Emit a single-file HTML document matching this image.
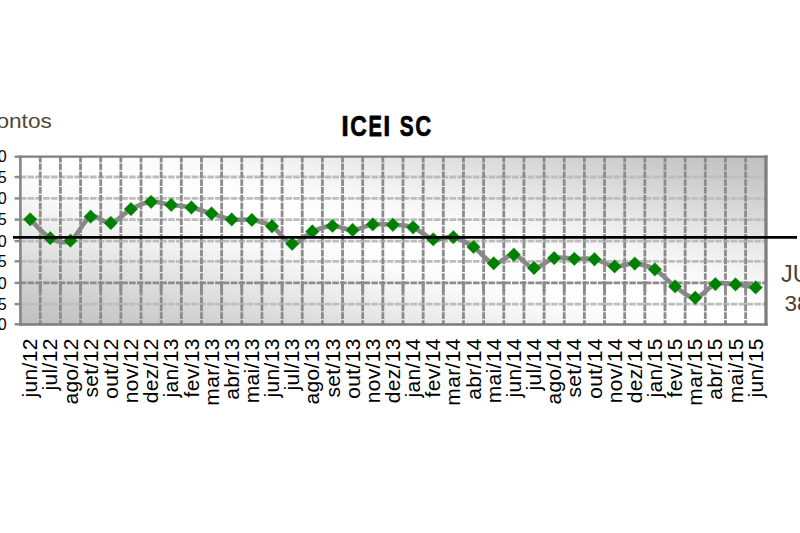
<!DOCTYPE html>
<html><head><meta charset="utf-8"><title>ICEI SC</title>
<style>
html,body{margin:0;padding:0;background:#fff;width:800px;height:533px;overflow:hidden;}
svg{display:block;}
text{font-family:"Liberation Sans",sans-serif;}
</style></head><body>
<svg width="800" height="533" viewBox="0 0 800 533">
<defs>
<linearGradient id="bg" x1="0" y1="1" x2="1" y2="0">
<stop offset="0.000" stop-color="#bfbfbf"/>
<stop offset="0.050" stop-color="#c5c5c5"/>
<stop offset="0.100" stop-color="#cccccc"/>
<stop offset="0.150" stop-color="#d4d4d4"/>
<stop offset="0.200" stop-color="#dcdcdc"/>
<stop offset="0.250" stop-color="#e4e4e4"/>
<stop offset="0.300" stop-color="#ececec"/>
<stop offset="0.350" stop-color="#f3f3f3"/>
<stop offset="0.400" stop-color="#f9f9f9"/>
<stop offset="0.450" stop-color="#fdfdfd"/>
<stop offset="0.500" stop-color="#ffffff"/>
<stop offset="0.550" stop-color="#fdfdfd"/>
<stop offset="0.600" stop-color="#f9f9f9"/>
<stop offset="0.650" stop-color="#f3f3f3"/>
<stop offset="0.700" stop-color="#ececec"/>
<stop offset="0.750" stop-color="#e4e4e4"/>
<stop offset="0.800" stop-color="#dcdcdc"/>
<stop offset="0.850" stop-color="#d4d4d4"/>
<stop offset="0.900" stop-color="#cccccc"/>
<stop offset="0.950" stop-color="#c5c5c5"/>
<stop offset="1.000" stop-color="#bfbfbf"/>
</linearGradient>
<filter id="soft" x="-1%" y="-5%" width="102%" height="110%"><feGaussianBlur stdDeviation="0.45"/></filter>
<filter id="soft2" x="-2%" y="-10%" width="104%" height="120%"><feGaussianBlur stdDeviation="0.4"/></filter>
</defs>

<rect x="20.10" y="156.70" width="745.66" height="167.60" fill="url(#bg)"/>
<g filter="url(#soft)">
<line x1="19.7" y1="177.00" x2="765.76" y2="177.00" stroke="#bdbdbd" stroke-width="2.8" stroke-dasharray="6.565 1.25"/>
<line x1="19.7" y1="198.40" x2="765.76" y2="198.40" stroke="#bdbdbd" stroke-width="2.8" stroke-dasharray="6.565 1.25"/>
<line x1="19.7" y1="219.60" x2="765.76" y2="219.60" stroke="#bdbdbd" stroke-width="2.8" stroke-dasharray="6.565 1.25"/>
<line x1="19.7" y1="241.10" x2="765.76" y2="241.10" stroke="#bdbdbd" stroke-width="2.8" stroke-dasharray="6.565 1.25"/>
<line x1="19.7" y1="261.30" x2="765.76" y2="261.30" stroke="#bdbdbd" stroke-width="2.8" stroke-dasharray="6.565 1.25"/>
<line x1="19.7" y1="282.90" x2="765.76" y2="282.90" stroke="#8c8c8c" stroke-width="2.8" stroke-dasharray="6.565 1.25"/>
<line x1="19.7" y1="304.10" x2="765.76" y2="304.10" stroke="#bdbdbd" stroke-width="2.8" stroke-dasharray="6.565 1.25"/>
<line x1="40.25" y1="156.70" x2="40.25" y2="324.30" stroke="#8c8c8c" stroke-width="2.8" stroke-dasharray="6.68 1.15" stroke-dashoffset="0.96"/>
<line x1="60.41" y1="156.70" x2="60.41" y2="324.30" stroke="#8c8c8c" stroke-width="2.8" stroke-dasharray="6.68 1.15" stroke-dashoffset="0.96"/>
<line x1="80.56" y1="156.70" x2="80.56" y2="324.30" stroke="#8c8c8c" stroke-width="2.8" stroke-dasharray="6.68 1.15" stroke-dashoffset="0.96"/>
<line x1="100.71" y1="156.70" x2="100.71" y2="324.30" stroke="#8c8c8c" stroke-width="2.8" stroke-dasharray="6.68 1.15" stroke-dashoffset="0.96"/>
<line x1="120.86" y1="156.70" x2="120.86" y2="324.30" stroke="#8c8c8c" stroke-width="2.8" stroke-dasharray="6.68 1.15" stroke-dashoffset="0.96"/>
<line x1="141.02" y1="156.70" x2="141.02" y2="324.30" stroke="#8c8c8c" stroke-width="2.8" stroke-dasharray="6.68 1.15" stroke-dashoffset="0.96"/>
<line x1="161.17" y1="156.70" x2="161.17" y2="324.30" stroke="#8c8c8c" stroke-width="2.8" stroke-dasharray="6.68 1.15" stroke-dashoffset="0.96"/>
<line x1="181.32" y1="156.70" x2="181.32" y2="324.30" stroke="#8c8c8c" stroke-width="2.8" stroke-dasharray="6.68 1.15" stroke-dashoffset="0.96"/>
<line x1="201.48" y1="156.70" x2="201.48" y2="324.30" stroke="#8c8c8c" stroke-width="2.8" stroke-dasharray="6.68 1.15" stroke-dashoffset="0.96"/>
<line x1="221.63" y1="156.70" x2="221.63" y2="324.30" stroke="#8c8c8c" stroke-width="2.8" stroke-dasharray="6.68 1.15" stroke-dashoffset="0.96"/>
<line x1="241.78" y1="156.70" x2="241.78" y2="324.30" stroke="#8c8c8c" stroke-width="2.8" stroke-dasharray="6.68 1.15" stroke-dashoffset="0.96"/>
<line x1="261.94" y1="156.70" x2="261.94" y2="324.30" stroke="#8c8c8c" stroke-width="2.8" stroke-dasharray="6.68 1.15" stroke-dashoffset="0.96"/>
<line x1="282.09" y1="156.70" x2="282.09" y2="324.30" stroke="#8c8c8c" stroke-width="2.8" stroke-dasharray="6.68 1.15" stroke-dashoffset="0.96"/>
<line x1="302.24" y1="156.70" x2="302.24" y2="324.30" stroke="#8c8c8c" stroke-width="2.8" stroke-dasharray="6.68 1.15" stroke-dashoffset="0.96"/>
<line x1="322.39" y1="156.70" x2="322.39" y2="324.30" stroke="#8c8c8c" stroke-width="2.8" stroke-dasharray="6.68 1.15" stroke-dashoffset="0.96"/>
<line x1="342.55" y1="156.70" x2="342.55" y2="324.30" stroke="#8c8c8c" stroke-width="2.8" stroke-dasharray="6.68 1.15" stroke-dashoffset="0.96"/>
<line x1="362.70" y1="156.70" x2="362.70" y2="324.30" stroke="#8c8c8c" stroke-width="2.8" stroke-dasharray="6.68 1.15" stroke-dashoffset="0.96"/>
<line x1="382.85" y1="156.70" x2="382.85" y2="324.30" stroke="#8c8c8c" stroke-width="2.8" stroke-dasharray="6.68 1.15" stroke-dashoffset="0.96"/>
<line x1="403.01" y1="156.70" x2="403.01" y2="324.30" stroke="#8c8c8c" stroke-width="2.8" stroke-dasharray="6.68 1.15" stroke-dashoffset="0.96"/>
<line x1="423.16" y1="156.70" x2="423.16" y2="324.30" stroke="#8c8c8c" stroke-width="2.8" stroke-dasharray="6.68 1.15" stroke-dashoffset="0.96"/>
<line x1="443.31" y1="156.70" x2="443.31" y2="324.30" stroke="#8c8c8c" stroke-width="2.8" stroke-dasharray="6.68 1.15" stroke-dashoffset="0.96"/>
<line x1="463.47" y1="156.70" x2="463.47" y2="324.30" stroke="#8c8c8c" stroke-width="2.8" stroke-dasharray="6.68 1.15" stroke-dashoffset="0.96"/>
<line x1="483.62" y1="156.70" x2="483.62" y2="324.30" stroke="#8c8c8c" stroke-width="2.8" stroke-dasharray="6.68 1.15" stroke-dashoffset="0.96"/>
<line x1="503.77" y1="156.70" x2="503.77" y2="324.30" stroke="#8c8c8c" stroke-width="2.8" stroke-dasharray="6.68 1.15" stroke-dashoffset="0.96"/>
<line x1="523.92" y1="156.70" x2="523.92" y2="324.30" stroke="#8c8c8c" stroke-width="2.8" stroke-dasharray="6.68 1.15" stroke-dashoffset="0.96"/>
<line x1="544.08" y1="156.70" x2="544.08" y2="324.30" stroke="#8c8c8c" stroke-width="2.8" stroke-dasharray="6.68 1.15" stroke-dashoffset="0.96"/>
<line x1="564.23" y1="156.70" x2="564.23" y2="324.30" stroke="#8c8c8c" stroke-width="2.8" stroke-dasharray="6.68 1.15" stroke-dashoffset="0.96"/>
<line x1="584.38" y1="156.70" x2="584.38" y2="324.30" stroke="#8c8c8c" stroke-width="2.8" stroke-dasharray="6.68 1.15" stroke-dashoffset="0.96"/>
<line x1="604.54" y1="156.70" x2="604.54" y2="324.30" stroke="#8c8c8c" stroke-width="2.8" stroke-dasharray="6.68 1.15" stroke-dashoffset="0.96"/>
<line x1="624.69" y1="156.70" x2="624.69" y2="324.30" stroke="#8c8c8c" stroke-width="2.8" stroke-dasharray="6.68 1.15" stroke-dashoffset="0.96"/>
<line x1="644.84" y1="156.70" x2="644.84" y2="324.30" stroke="#8c8c8c" stroke-width="2.8" stroke-dasharray="6.68 1.15" stroke-dashoffset="0.96"/>
<line x1="665.00" y1="156.70" x2="665.00" y2="324.30" stroke="#8c8c8c" stroke-width="2.8" stroke-dasharray="6.68 1.15" stroke-dashoffset="0.96"/>
<line x1="685.15" y1="156.70" x2="685.15" y2="324.30" stroke="#8c8c8c" stroke-width="2.8" stroke-dasharray="6.68 1.15" stroke-dashoffset="0.96"/>
<line x1="705.30" y1="156.70" x2="705.30" y2="324.30" stroke="#8c8c8c" stroke-width="2.8" stroke-dasharray="6.68 1.15" stroke-dashoffset="0.96"/>
<line x1="725.45" y1="156.70" x2="725.45" y2="324.30" stroke="#8c8c8c" stroke-width="2.8" stroke-dasharray="6.68 1.15" stroke-dashoffset="0.96"/>
<line x1="745.61" y1="156.70" x2="745.61" y2="324.30" stroke="#8c8c8c" stroke-width="2.8" stroke-dasharray="6.68 1.15" stroke-dashoffset="0.96"/>
<line x1="40.25" y1="282.90" x2="40.25" y2="291.40" stroke="#8c8c8c" stroke-width="2.8"/>
<line x1="60.41" y1="282.90" x2="60.41" y2="291.40" stroke="#8c8c8c" stroke-width="2.8"/>
<line x1="80.56" y1="282.90" x2="80.56" y2="291.40" stroke="#8c8c8c" stroke-width="2.8"/>
<line x1="100.71" y1="282.90" x2="100.71" y2="291.40" stroke="#8c8c8c" stroke-width="2.8"/>
<line x1="120.86" y1="282.90" x2="120.86" y2="291.40" stroke="#8c8c8c" stroke-width="2.8"/>
<line x1="141.02" y1="282.90" x2="141.02" y2="291.40" stroke="#8c8c8c" stroke-width="2.8"/>
<line x1="161.17" y1="282.90" x2="161.17" y2="291.40" stroke="#8c8c8c" stroke-width="2.8"/>
<line x1="181.32" y1="282.90" x2="181.32" y2="291.40" stroke="#8c8c8c" stroke-width="2.8"/>
<line x1="201.48" y1="282.90" x2="201.48" y2="291.40" stroke="#8c8c8c" stroke-width="2.8"/>
<line x1="221.63" y1="282.90" x2="221.63" y2="291.40" stroke="#8c8c8c" stroke-width="2.8"/>
<line x1="241.78" y1="282.90" x2="241.78" y2="291.40" stroke="#8c8c8c" stroke-width="2.8"/>
<line x1="261.94" y1="282.90" x2="261.94" y2="291.40" stroke="#8c8c8c" stroke-width="2.8"/>
<line x1="282.09" y1="282.90" x2="282.09" y2="291.40" stroke="#8c8c8c" stroke-width="2.8"/>
<line x1="302.24" y1="282.90" x2="302.24" y2="291.40" stroke="#8c8c8c" stroke-width="2.8"/>
<line x1="322.39" y1="282.90" x2="322.39" y2="291.40" stroke="#8c8c8c" stroke-width="2.8"/>
<line x1="342.55" y1="282.90" x2="342.55" y2="291.40" stroke="#8c8c8c" stroke-width="2.8"/>
<line x1="362.70" y1="282.90" x2="362.70" y2="291.40" stroke="#8c8c8c" stroke-width="2.8"/>
<line x1="382.85" y1="282.90" x2="382.85" y2="291.40" stroke="#8c8c8c" stroke-width="2.8"/>
<line x1="403.01" y1="282.90" x2="403.01" y2="291.40" stroke="#8c8c8c" stroke-width="2.8"/>
<line x1="423.16" y1="282.90" x2="423.16" y2="291.40" stroke="#8c8c8c" stroke-width="2.8"/>
<line x1="443.31" y1="282.90" x2="443.31" y2="291.40" stroke="#8c8c8c" stroke-width="2.8"/>
<line x1="463.47" y1="282.90" x2="463.47" y2="291.40" stroke="#8c8c8c" stroke-width="2.8"/>
<line x1="483.62" y1="282.90" x2="483.62" y2="291.40" stroke="#8c8c8c" stroke-width="2.8"/>
<line x1="503.77" y1="282.90" x2="503.77" y2="291.40" stroke="#8c8c8c" stroke-width="2.8"/>
<line x1="523.92" y1="282.90" x2="523.92" y2="291.40" stroke="#8c8c8c" stroke-width="2.8"/>
<line x1="544.08" y1="282.90" x2="544.08" y2="291.40" stroke="#8c8c8c" stroke-width="2.8"/>
<line x1="564.23" y1="282.90" x2="564.23" y2="291.40" stroke="#8c8c8c" stroke-width="2.8"/>
<line x1="584.38" y1="282.90" x2="584.38" y2="291.40" stroke="#8c8c8c" stroke-width="2.8"/>
<line x1="604.54" y1="282.90" x2="604.54" y2="291.40" stroke="#8c8c8c" stroke-width="2.8"/>
<line x1="624.69" y1="282.90" x2="624.69" y2="291.40" stroke="#8c8c8c" stroke-width="2.8"/>
<line x1="644.84" y1="282.90" x2="644.84" y2="291.40" stroke="#8c8c8c" stroke-width="2.8"/>
<line x1="665.00" y1="282.90" x2="665.00" y2="291.40" stroke="#8c8c8c" stroke-width="2.8"/>
<line x1="685.15" y1="282.90" x2="685.15" y2="291.40" stroke="#8c8c8c" stroke-width="2.8"/>
<line x1="705.30" y1="282.90" x2="705.30" y2="291.40" stroke="#8c8c8c" stroke-width="2.8"/>
<line x1="725.45" y1="282.90" x2="725.45" y2="291.40" stroke="#8c8c8c" stroke-width="2.8"/>
<line x1="745.61" y1="282.90" x2="745.61" y2="291.40" stroke="#8c8c8c" stroke-width="2.8"/>
</g>
<line x1="14.6" y1="156.70" x2="20.10" y2="156.70" stroke="#8a8a8a" stroke-width="2.4"/>
<line x1="14.6" y1="177.00" x2="20.10" y2="177.00" stroke="#8a8a8a" stroke-width="2.4"/>
<line x1="14.6" y1="198.40" x2="20.10" y2="198.40" stroke="#8a8a8a" stroke-width="2.4"/>
<line x1="14.6" y1="219.60" x2="20.10" y2="219.60" stroke="#8a8a8a" stroke-width="2.4"/>
<line x1="14.6" y1="241.10" x2="20.10" y2="241.10" stroke="#8a8a8a" stroke-width="2.4"/>
<line x1="14.6" y1="261.30" x2="20.10" y2="261.30" stroke="#8a8a8a" stroke-width="2.4"/>
<line x1="14.6" y1="282.90" x2="20.10" y2="282.90" stroke="#8a8a8a" stroke-width="2.4"/>
<line x1="14.6" y1="304.10" x2="20.10" y2="304.10" stroke="#8a8a8a" stroke-width="2.4"/>
<line x1="14.6" y1="324.30" x2="20.10" y2="324.30" stroke="#8a8a8a" stroke-width="2.4"/>
<path d="M19.10 156.60H767.60" stroke="#7e7e7e" stroke-width="2.3" fill="none"/>
<path d="M19.10 324.50H767.60" stroke="#7c7c7c" stroke-width="2.7" fill="none"/>
<path d="M20.40 155.50V325.80" stroke="#858585" stroke-width="2.6" fill="none"/>
<path d="M766.00 155.50V325.80" stroke="#7e7e7e" stroke-width="3.3" fill="none"/>
<g filter="url(#soft2)">
<path d="M30.18 219.30 C33.54 222.45 43.61 234.63 50.33 238.20 C57.05 241.77 63.76 244.28 70.48 240.70 C77.20 237.12 83.92 219.65 90.64 216.70 C97.35 213.75 104.07 224.27 110.79 223.00 C117.51 221.73 124.22 212.63 130.94 209.10 C137.66 205.57 144.38 202.49 151.09 201.80 C157.81 201.11 164.53 204.00 171.25 204.95 C177.97 205.90 184.68 206.07 191.40 207.50 C198.12 208.93 204.84 211.52 211.55 213.50 C218.27 215.48 224.99 218.33 231.71 219.40 C238.42 220.47 245.14 218.81 251.86 219.95 C258.58 221.09 265.29 222.28 272.01 226.25 C278.73 230.22 285.45 242.93 292.17 243.80 C298.88 244.68 305.60 234.48 312.32 231.50 C319.04 228.52 325.75 226.15 332.47 225.90 C339.19 225.65 345.91 230.24 352.62 230.00 C359.34 229.76 366.06 225.32 372.78 224.45 C379.50 223.57 386.21 224.28 392.93 224.75 C399.65 225.22 406.37 224.88 413.08 227.30 C419.80 229.73 426.52 237.65 433.24 239.30 C439.95 240.95 446.67 235.92 453.39 237.20 C460.11 238.47 466.82 242.60 473.54 246.95 C480.26 251.30 486.98 262.00 493.70 263.30 C500.41 264.60 507.13 253.97 513.85 254.75 C520.57 255.53 527.28 267.45 534.00 268.00 C540.72 268.55 547.44 259.58 554.15 258.05 C560.87 256.52 567.59 258.60 574.31 258.80 C581.03 259.00 587.74 257.98 594.46 259.25 C601.18 260.52 607.90 265.72 614.61 266.45 C621.33 267.18 628.05 263.11 634.77 263.60 C641.48 264.09 648.20 265.60 654.92 269.40 C661.64 273.20 668.35 281.67 675.07 286.40 C681.79 291.12 688.51 298.14 695.23 297.75 C701.94 297.36 708.66 286.27 715.38 284.05 C722.10 281.83 728.81 283.88 735.53 284.45 C742.25 285.02 752.33 286.95 755.68 287.45" fill="none" stroke="#888" stroke-width="4.6" stroke-linejoin="round" stroke-linecap="round"/>
<path d="M30.18 212.40L37.08 219.30L30.18 226.20L23.28 219.30Z" fill="#008000" stroke="#3cb43c" stroke-width="0.5" stroke-opacity="0.6"/>
<path d="M50.33 231.30L57.23 238.20L50.33 245.10L43.43 238.20Z" fill="#008000" stroke="#3cb43c" stroke-width="0.5" stroke-opacity="0.6"/>
<path d="M70.48 233.80L77.38 240.70L70.48 247.60L63.58 240.70Z" fill="#008000" stroke="#3cb43c" stroke-width="0.5" stroke-opacity="0.6"/>
<path d="M90.64 209.80L97.54 216.70L90.64 223.60L83.74 216.70Z" fill="#008000" stroke="#3cb43c" stroke-width="0.5" stroke-opacity="0.6"/>
<path d="M110.79 216.10L117.69 223.00L110.79 229.90L103.89 223.00Z" fill="#008000" stroke="#3cb43c" stroke-width="0.5" stroke-opacity="0.6"/>
<path d="M130.94 202.20L137.84 209.10L130.94 216.00L124.04 209.10Z" fill="#008000" stroke="#3cb43c" stroke-width="0.5" stroke-opacity="0.6"/>
<path d="M151.09 194.90L157.99 201.80L151.09 208.70L144.19 201.80Z" fill="#008000" stroke="#3cb43c" stroke-width="0.5" stroke-opacity="0.6"/>
<path d="M171.25 198.05L178.15 204.95L171.25 211.85L164.35 204.95Z" fill="#008000" stroke="#3cb43c" stroke-width="0.5" stroke-opacity="0.6"/>
<path d="M191.40 200.60L198.30 207.50L191.40 214.40L184.50 207.50Z" fill="#008000" stroke="#3cb43c" stroke-width="0.5" stroke-opacity="0.6"/>
<path d="M211.55 206.60L218.45 213.50L211.55 220.40L204.65 213.50Z" fill="#008000" stroke="#3cb43c" stroke-width="0.5" stroke-opacity="0.6"/>
<path d="M231.71 212.50L238.61 219.40L231.71 226.30L224.81 219.40Z" fill="#008000" stroke="#3cb43c" stroke-width="0.5" stroke-opacity="0.6"/>
<path d="M251.86 213.05L258.76 219.95L251.86 226.85L244.96 219.95Z" fill="#008000" stroke="#3cb43c" stroke-width="0.5" stroke-opacity="0.6"/>
<path d="M272.01 219.35L278.91 226.25L272.01 233.15L265.11 226.25Z" fill="#008000" stroke="#3cb43c" stroke-width="0.5" stroke-opacity="0.6"/>
<path d="M292.17 236.90L299.07 243.80L292.17 250.70L285.27 243.80Z" fill="#008000" stroke="#3cb43c" stroke-width="0.5" stroke-opacity="0.6"/>
<path d="M312.32 224.60L319.22 231.50L312.32 238.40L305.42 231.50Z" fill="#008000" stroke="#3cb43c" stroke-width="0.5" stroke-opacity="0.6"/>
<path d="M332.47 219.00L339.37 225.90L332.47 232.80L325.57 225.90Z" fill="#008000" stroke="#3cb43c" stroke-width="0.5" stroke-opacity="0.6"/>
<path d="M352.62 223.10L359.52 230.00L352.62 236.90L345.72 230.00Z" fill="#008000" stroke="#3cb43c" stroke-width="0.5" stroke-opacity="0.6"/>
<path d="M372.78 217.55L379.68 224.45L372.78 231.35L365.88 224.45Z" fill="#008000" stroke="#3cb43c" stroke-width="0.5" stroke-opacity="0.6"/>
<path d="M392.93 217.85L399.83 224.75L392.93 231.65L386.03 224.75Z" fill="#008000" stroke="#3cb43c" stroke-width="0.5" stroke-opacity="0.6"/>
<path d="M413.08 220.40L419.98 227.30L413.08 234.20L406.18 227.30Z" fill="#008000" stroke="#3cb43c" stroke-width="0.5" stroke-opacity="0.6"/>
<path d="M433.24 232.40L440.14 239.30L433.24 246.20L426.34 239.30Z" fill="#008000" stroke="#3cb43c" stroke-width="0.5" stroke-opacity="0.6"/>
<path d="M453.39 230.30L460.29 237.20L453.39 244.10L446.49 237.20Z" fill="#008000" stroke="#3cb43c" stroke-width="0.5" stroke-opacity="0.6"/>
<path d="M473.54 240.05L480.44 246.95L473.54 253.85L466.64 246.95Z" fill="#008000" stroke="#3cb43c" stroke-width="0.5" stroke-opacity="0.6"/>
<path d="M493.70 256.40L500.60 263.30L493.70 270.20L486.80 263.30Z" fill="#008000" stroke="#3cb43c" stroke-width="0.5" stroke-opacity="0.6"/>
<path d="M513.85 247.85L520.75 254.75L513.85 261.65L506.95 254.75Z" fill="#008000" stroke="#3cb43c" stroke-width="0.5" stroke-opacity="0.6"/>
<path d="M534.00 261.10L540.90 268.00L534.00 274.90L527.10 268.00Z" fill="#008000" stroke="#3cb43c" stroke-width="0.5" stroke-opacity="0.6"/>
<path d="M554.15 251.15L561.05 258.05L554.15 264.95L547.25 258.05Z" fill="#008000" stroke="#3cb43c" stroke-width="0.5" stroke-opacity="0.6"/>
<path d="M574.31 251.90L581.21 258.80L574.31 265.70L567.41 258.80Z" fill="#008000" stroke="#3cb43c" stroke-width="0.5" stroke-opacity="0.6"/>
<path d="M594.46 252.35L601.36 259.25L594.46 266.15L587.56 259.25Z" fill="#008000" stroke="#3cb43c" stroke-width="0.5" stroke-opacity="0.6"/>
<path d="M614.61 259.55L621.51 266.45L614.61 273.35L607.71 266.45Z" fill="#008000" stroke="#3cb43c" stroke-width="0.5" stroke-opacity="0.6"/>
<path d="M634.77 256.70L641.67 263.60L634.77 270.50L627.87 263.60Z" fill="#008000" stroke="#3cb43c" stroke-width="0.5" stroke-opacity="0.6"/>
<path d="M654.92 262.50L661.82 269.40L654.92 276.30L648.02 269.40Z" fill="#008000" stroke="#3cb43c" stroke-width="0.5" stroke-opacity="0.6"/>
<path d="M675.07 279.50L681.97 286.40L675.07 293.30L668.17 286.40Z" fill="#008000" stroke="#3cb43c" stroke-width="0.5" stroke-opacity="0.6"/>
<path d="M695.23 290.85L702.13 297.75L695.23 304.65L688.33 297.75Z" fill="#008000" stroke="#3cb43c" stroke-width="0.5" stroke-opacity="0.6"/>
<path d="M715.38 277.15L722.28 284.05L715.38 290.95L708.48 284.05Z" fill="#008000" stroke="#3cb43c" stroke-width="0.5" stroke-opacity="0.6"/>
<path d="M735.53 277.55L742.43 284.45L735.53 291.35L728.63 284.45Z" fill="#008000" stroke="#3cb43c" stroke-width="0.5" stroke-opacity="0.6"/>
<path d="M755.68 280.55L762.58 287.45L755.68 294.35L748.78 287.45Z" fill="#008000" stroke="#3cb43c" stroke-width="0.5" stroke-opacity="0.6"/>
</g>
<line x1="13" y1="237.4" x2="797" y2="237.4" stroke="#000" stroke-width="2.7"/>
<text x="6.6" y="162.45" font-size="16" text-anchor="end" fill="#000">70</text>
<text x="6.6" y="182.75" font-size="16" text-anchor="end" fill="#000">65</text>
<text x="6.6" y="204.15" font-size="16" text-anchor="end" fill="#000">60</text>
<text x="6.6" y="225.35" font-size="16" text-anchor="end" fill="#000">55</text>
<text x="6.6" y="246.85" font-size="16" text-anchor="end" fill="#000">50</text>
<text x="6.6" y="267.05" font-size="16" text-anchor="end" fill="#000">45</text>
<text x="6.6" y="288.65" font-size="16" text-anchor="end" fill="#000">40</text>
<text x="6.6" y="309.85" font-size="16" text-anchor="end" fill="#000">35</text>
<text x="6.6" y="330.05" font-size="16" text-anchor="end" fill="#000">30</text>
<text transform="translate(37.28 338.20) rotate(-90)" x="0" y="0" font-size="21" letter-spacing="0.35" text-anchor="end" fill="#000">jun/12</text>
<text transform="translate(57.43 338.20) rotate(-90)" x="0" y="0" font-size="21" letter-spacing="0.35" text-anchor="end" fill="#000">jul/12</text>
<text transform="translate(77.58 338.20) rotate(-90)" x="0" y="0" font-size="21" letter-spacing="0.35" text-anchor="end" fill="#000">ago/12</text>
<text transform="translate(97.74 338.20) rotate(-90)" x="0" y="0" font-size="21" letter-spacing="0.35" text-anchor="end" fill="#000">set/12</text>
<text transform="translate(117.89 338.20) rotate(-90)" x="0" y="0" font-size="21" letter-spacing="0.35" text-anchor="end" fill="#000">out/12</text>
<text transform="translate(138.04 338.20) rotate(-90)" x="0" y="0" font-size="21" letter-spacing="0.35" text-anchor="end" fill="#000">nov/12</text>
<text transform="translate(158.19 338.20) rotate(-90)" x="0" y="0" font-size="21" letter-spacing="0.35" text-anchor="end" fill="#000">dez/12</text>
<text transform="translate(178.35 338.20) rotate(-90)" x="0" y="0" font-size="21" letter-spacing="0.35" text-anchor="end" fill="#000">jan/13</text>
<text transform="translate(198.50 338.20) rotate(-90)" x="0" y="0" font-size="21" letter-spacing="0.35" text-anchor="end" fill="#000">fev/13</text>
<text transform="translate(218.65 338.20) rotate(-90)" x="0" y="0" font-size="21" letter-spacing="0.35" text-anchor="end" fill="#000">mar/13</text>
<text transform="translate(238.81 338.20) rotate(-90)" x="0" y="0" font-size="21" letter-spacing="0.35" text-anchor="end" fill="#000">abr/13</text>
<text transform="translate(258.96 338.20) rotate(-90)" x="0" y="0" font-size="21" letter-spacing="0.35" text-anchor="end" fill="#000">mai/13</text>
<text transform="translate(279.11 338.20) rotate(-90)" x="0" y="0" font-size="21" letter-spacing="0.35" text-anchor="end" fill="#000">jun/13</text>
<text transform="translate(299.27 338.20) rotate(-90)" x="0" y="0" font-size="21" letter-spacing="0.35" text-anchor="end" fill="#000">jul/13</text>
<text transform="translate(319.42 338.20) rotate(-90)" x="0" y="0" font-size="21" letter-spacing="0.35" text-anchor="end" fill="#000">ago/13</text>
<text transform="translate(339.57 338.20) rotate(-90)" x="0" y="0" font-size="21" letter-spacing="0.35" text-anchor="end" fill="#000">set/13</text>
<text transform="translate(359.72 338.20) rotate(-90)" x="0" y="0" font-size="21" letter-spacing="0.35" text-anchor="end" fill="#000">out/13</text>
<text transform="translate(379.88 338.20) rotate(-90)" x="0" y="0" font-size="21" letter-spacing="0.35" text-anchor="end" fill="#000">nov/13</text>
<text transform="translate(400.03 338.20) rotate(-90)" x="0" y="0" font-size="21" letter-spacing="0.35" text-anchor="end" fill="#000">dez/13</text>
<text transform="translate(420.18 338.20) rotate(-90)" x="0" y="0" font-size="21" letter-spacing="0.35" text-anchor="end" fill="#000">jan/14</text>
<text transform="translate(440.34 338.20) rotate(-90)" x="0" y="0" font-size="21" letter-spacing="0.35" text-anchor="end" fill="#000">fev/14</text>
<text transform="translate(460.49 338.20) rotate(-90)" x="0" y="0" font-size="21" letter-spacing="0.35" text-anchor="end" fill="#000">mar/14</text>
<text transform="translate(480.64 338.20) rotate(-90)" x="0" y="0" font-size="21" letter-spacing="0.35" text-anchor="end" fill="#000">abr/14</text>
<text transform="translate(500.80 338.20) rotate(-90)" x="0" y="0" font-size="21" letter-spacing="0.35" text-anchor="end" fill="#000">mai/14</text>
<text transform="translate(520.95 338.20) rotate(-90)" x="0" y="0" font-size="21" letter-spacing="0.35" text-anchor="end" fill="#000">jun/14</text>
<text transform="translate(541.10 338.20) rotate(-90)" x="0" y="0" font-size="21" letter-spacing="0.35" text-anchor="end" fill="#000">jul/14</text>
<text transform="translate(561.25 338.20) rotate(-90)" x="0" y="0" font-size="21" letter-spacing="0.35" text-anchor="end" fill="#000">ago/14</text>
<text transform="translate(581.41 338.20) rotate(-90)" x="0" y="0" font-size="21" letter-spacing="0.35" text-anchor="end" fill="#000">set/14</text>
<text transform="translate(601.56 338.20) rotate(-90)" x="0" y="0" font-size="21" letter-spacing="0.35" text-anchor="end" fill="#000">out/14</text>
<text transform="translate(621.71 338.20) rotate(-90)" x="0" y="0" font-size="21" letter-spacing="0.35" text-anchor="end" fill="#000">nov/14</text>
<text transform="translate(641.87 338.20) rotate(-90)" x="0" y="0" font-size="21" letter-spacing="0.35" text-anchor="end" fill="#000">dez/14</text>
<text transform="translate(662.02 338.20) rotate(-90)" x="0" y="0" font-size="21" letter-spacing="0.35" text-anchor="end" fill="#000">jan/15</text>
<text transform="translate(682.17 338.20) rotate(-90)" x="0" y="0" font-size="21" letter-spacing="0.35" text-anchor="end" fill="#000">fev/15</text>
<text transform="translate(702.33 338.20) rotate(-90)" x="0" y="0" font-size="21" letter-spacing="0.35" text-anchor="end" fill="#000">mar/15</text>
<text transform="translate(722.48 338.20) rotate(-90)" x="0" y="0" font-size="21" letter-spacing="0.35" text-anchor="end" fill="#000">abr/15</text>
<text transform="translate(742.63 338.20) rotate(-90)" x="0" y="0" font-size="21" letter-spacing="0.35" text-anchor="end" fill="#000">mai/15</text>
<text transform="translate(762.78 338.20) rotate(-90)" x="0" y="0" font-size="21" letter-spacing="0.35" text-anchor="end" fill="#000">jun/15</text>
<text transform="translate(341.18 135.8) scale(0.909 1)" x="0" y="0" font-size="30.2" font-weight="bold" fill="#000" stroke="#000" stroke-width="0.55">I</text>
<text transform="translate(350.24 135.8) scale(0.761 1)" x="0" y="0" font-size="30.2" font-weight="bold" fill="#000" stroke="#000" stroke-width="0.66">C</text>
<text transform="translate(368.62 135.8) scale(0.665 1)" x="0" y="0" font-size="30.2" font-weight="bold" fill="#000" stroke="#000" stroke-width="0.75">E</text>
<text transform="translate(383.17 135.8) scale(0.841 1)" x="0" y="0" font-size="30.2" font-weight="bold" fill="#000" stroke="#000" stroke-width="0.59">I</text>
<text transform="translate(399.83 135.8) scale(0.691 1)" x="0" y="0" font-size="30.2" font-weight="bold" fill="#000" stroke="#000" stroke-width="0.72">S</text>
<text transform="translate(415.37 135.8) scale(0.731 1)" x="0" y="0" font-size="30.2" font-weight="bold" fill="#000" stroke="#000" stroke-width="0.68">C</text>
<text transform="translate(-16.20 127.6) scale(1.080 1)" x="0" y="0" font-size="21" fill="#524838">pontos</text>
<text x="780.90" y="281.7" font-size="23.3" fill="#4a4030">J</text>
<text x="792.70" y="281.7" font-size="23.3" fill="#4a4030">UN</text>
<text x="784.50" y="310.9" font-size="22.50" fill="#4a4030">38,8</text>
</svg></body></html>
